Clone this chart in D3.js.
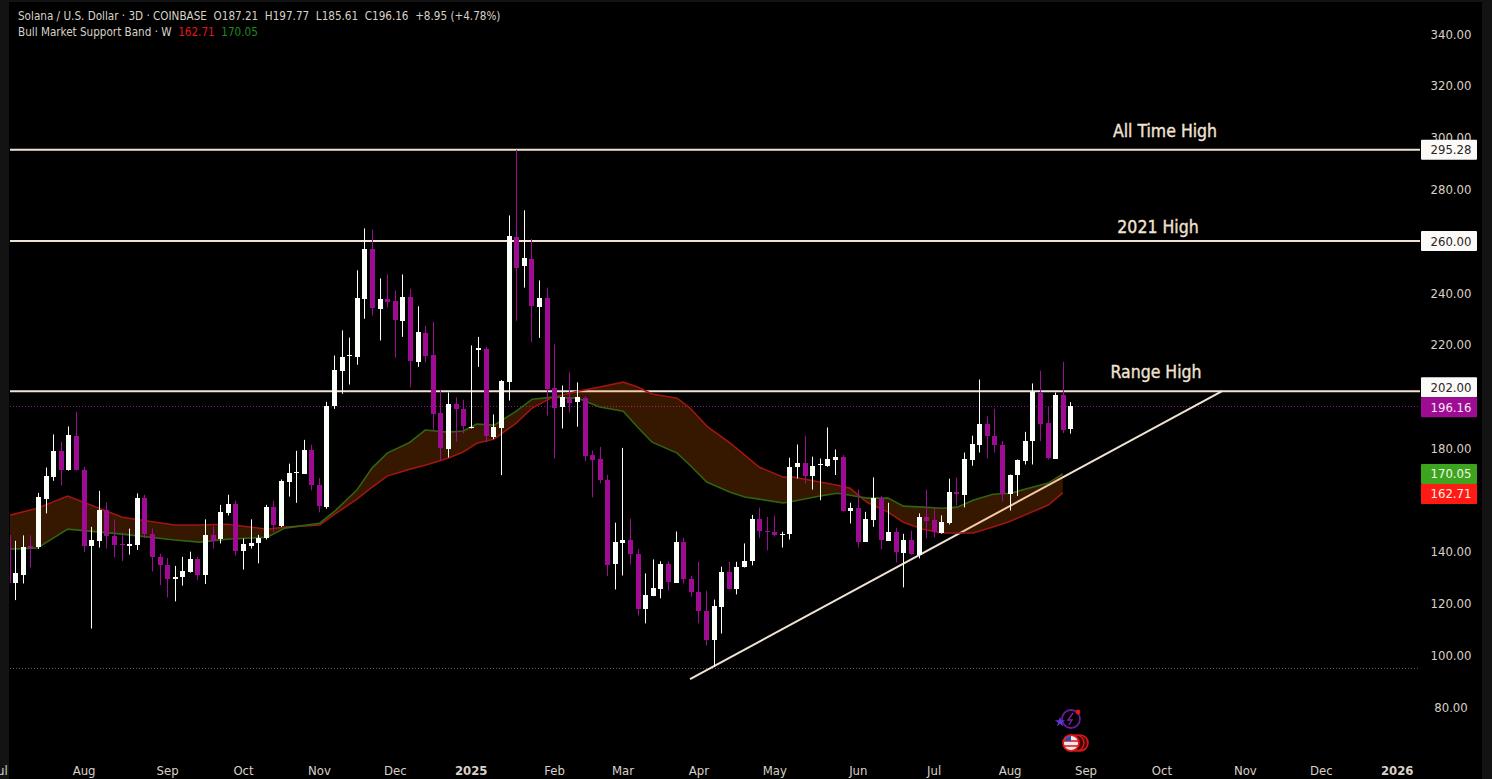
<!DOCTYPE html>
<html>
<head>
<meta charset="utf-8">
<script src="https://cdn.jsdelivr.net/npm/d3@7"></script>
<style>
  html, body { margin: 0; padding: 0; background: #000; overflow: hidden; }
  svg { display: block; }
  text { font-family: "DejaVu Sans Condensed", "DejaVu Sans", sans-serif; font-stretch: condensed; }
</style>
</head>
<body>
<script>
// candles, first one is cut off by the left edge of the pane
var firstBar = -1;
var opens = [146.4,
  127.7,131.2,142.2,141.8,160.6,168.9,179.0,171.4,184.8,171.6,
  142.2,144.3,156.1,146.0,142.9,142.0,142.5,160.8,147.0,138.0,
  134.9,129.4,130.2,132.4,137.3,131.2,146.5,144.9,155.2,158.4,
  140.1,142.4,143.2,145.2,157.2,150.1,167.1,170.1,170.2,179.4,
  165.7,157.5,196.2,210.0,215.3,215.4,237.8,257.0,234.0,237.7,
  236.9,229.4,238.4,213.5,224.6,216.1,193.5,179.9,197.0,195.1,
  188.3,217.6,218.3,184.5,188.0,205.8,261.7,250.1,253.2,234.8,
  238.1,203.3,195.7,199.5,197.7,199.5,177.4,175.9,167.8,135.1,
  143.6,144.6,139.2,118.0,123.0,125.8,135.3,128.1,143.7,129.4,
  124.5,117.1,105.8,118.8,132.2,125.8,134.0,136.3,152.7,148.1,
  147.7,146.7,146.8,172.7,174.3,169.2,173.2,173.3,175.6,176.7,
  155.9,157.0,143.9,152.4,160.7,144.3,147.7,139.7,144.5,138.9,
  153.5,152.2,147.3,151.3,163.1,162.2,175.6,181.4,189.3,184.6,
  181.2,162.4,169.6,175.2,182.7,201.5,189.7,176.0,200.5,187.21];
var closes = [127.7,
  131.6,141.9,141.6,161.0,169.3,179.0,171.5,184.9,171.5,142.2,
  144.6,156.1,146.0,142.5,142.4,142.9,160.8,146.9,138.0,134.8,
  129.4,130.3,132.6,137.3,131.3,146.5,144.3,155.4,158.5,140.2,
  142.8,143.4,145.2,157.3,150.1,167.4,170.5,170.6,179.4,165.7,
  157.5,196.4,210.3,215.3,215.8,238.1,257.0,234.1,237.7,236.7,
  229.5,238.5,213.6,225.0,215.8,193.4,179.9,197.1,194.9,188.4,
  188.3,218.5,184.5,188.3,206.0,262.1,249.8,253.3,234.9,238.1,
  203.1,195.7,199.6,197.7,199.6,177.2,175.6,167.7,134.8,143.6,
  144.7,139.0,118.0,123.3,126.0,135.4,128.2,143.8,129.3,124.4,
  117.0,105.8,119.1,132.2,125.8,134.2,136.5,152.7,148.0,147.6,
  146.5,147.0,172.8,174.3,169.1,173.0,173.7,175.9,176.7,155.9,
  157.0,143.9,152.7,160.8,144.5,147.7,140.1,144.7,139.1,153.5,
  152.1,147.7,151.6,163.1,162.2,176.0,181.7,189.4,184.6,181.0,
  162.4,169.7,175.5,182.8,201.8,189.7,176.0,200.6,186.9,196.16];
var highs = [148.0,
  144.2,146.3,146.3,162.7,172.5,185.3,182.5,188.4,194.0,172.8,
  149.6,163.5,159.0,152.5,147.3,148.9,162.5,162.0,149.0,139.2,
  137.6,134.5,138.0,140.0,138.0,152.5,149.9,158.1,162.0,159.7,
  145.1,152.5,146.5,158.1,159.7,167.9,174.0,179.0,183.2,181.3,
  168.5,197.9,215.8,225.5,222.7,248.7,264.9,264.5,245.6,247.1,
  240.9,247.1,241.6,234.8,227.3,228.8,202.4,201.5,199.6,198.7,
  219.7,223.0,219.2,193.0,206.3,269.9,295.28,271.9,260.8,244.8,
  242.0,220.1,204.2,209.3,205.4,200.1,179.1,180.5,169.7,151.2,
  180.1,152.7,141.1,131.6,137.0,136.3,136.2,147.8,145.4,130.7,
  136.1,124.9,121.5,134.2,136.1,136.1,143.2,154.2,157.0,153.5,
  153.9,147.7,176.3,181.4,184.8,176.7,176.0,188.0,179.5,177.3,
  158.9,164.0,155.4,168.7,161.5,158.9,149.2,146.9,148.1,154.8,
  164.0,156.7,154.0,168.2,168.7,178.3,184.8,206.5,192.3,195.2,
  182.8,169.8,175.6,186.3,205.0,209.9,196.0,201.5,213.4,197.77];
var lows = [126.0,
  121.3,127.7,133.9,141.1,154.8,167.4,165.6,171.3,171.4,139.8,
  110.3,141.6,141.2,137.9,136.4,138.9,140.7,145.2,132.4,127.1,
  122.3,120.8,126.9,131.9,129.0,127.5,141.2,143.2,154.0,138.5,
  133.1,141.2,135.5,144.7,147.7,149.5,161.3,158.9,170.0,163.7,
  155.2,156.6,195.2,201.0,204.6,212.2,230.0,231.2,221.6,234.4,
  215.0,223.0,203.5,211.4,213.1,186.8,175.3,176.4,182.5,185.7,
  187.6,211.4,182.3,183.5,169.6,198.4,229.2,242.0,220.9,222.6,
  192.6,176.0,187.6,193.8,188.3,175.0,161.0,166.4,130.6,125.4,
  130.8,135.1,115.3,112.3,122.8,122.0,125.0,128.0,127.7,122.6,
  112.3,103.8,95.5,108.4,125.4,123.5,133.9,134.7,145.4,140.5,
  145.9,141.6,144.7,168.3,166.4,164.0,159.9,172.8,169.6,155.5,
  150.9,141.6,143.8,149.6,140.9,144.2,135.8,126.2,138.9,137.4,
  145.1,145.5,147.0,150.5,157.9,157.1,173.2,178.3,176.0,178.3,
  159.4,155.9,161.5,173.7,173.7,182.7,175.6,175.9,185.8,185.61];

// bull market support band, vertices sit on fractional bar numbers
var bandBars = [-0.7,2.9,6.9,14.1,21.0,24.3,27.9,33.2,35.5,40.1,42.1,45.0,47.0,49.0,52.0,54.0,57.0,59.0,60.8,63.1,66.0,68.1,70.8,74.1,77.0,80.1,82.0,83.9,87.2,88.9,91.1,94.2,96.1,98.0,101.2,102.5,106.0,108.3,110.0,112.2,115.0,117.0,119.6,122.1,124.1,126.2,128.8,131.1,136.1,138.0];
var bandRed = [154.1,156.8,161.5,153.3,150.3,150.3,150.6,148.7,149.5,150.3,154.5,160.3,164.9,169.2,171.9,173.4,176.1,178.5,181.9,183.5,189.7,195.5,199.7,202.0,203.6,205.5,203.6,200.9,199.3,195.5,188.5,181.9,177.3,172.7,168.8,168.8,166.9,165.7,164.5,159.1,155.3,151.4,148.7,147.2,147.2,147.2,149.5,151.8,158.0,162.71];
var bandGreen = [141.0,141.4,148.7,146.8,144.5,143.7,144.8,145.6,149.1,151.0,155.7,163.8,172.3,178.1,182.3,187.0,186.2,186.6,189.3,188.9,194.3,198.9,199.7,199.3,195.9,194.3,188.1,182.3,178.1,173.4,166.9,163.0,161.1,160.3,158.8,159.5,161.5,162.6,161.8,160.7,160.7,157.6,157.2,156.8,157.2,159.9,162.2,162.6,166.5,170.05];

// axes (260, 200 and 160 sit fully behind price tags in the picture)
var priceTicks = [80,100,120,140,180,220,240,280,300,320,340];
var monthBars = [-2,9,20,30,40,50,60,71,80,90,100,111,121,131,141,151,162,172,182];
var monthLabels = ["Jul","Aug","Sep","Oct","Nov","Dec","2025","Feb","Mar","Apr","May","Jun","Jul","Aug","Sep","Oct","Nov","Dec","2026"];

// drawn levels
var levelValues = [295.28, 260, 202];
var levelTexts = ["All Time High", "2021 High", "Range High"];
var trendBars = [88.9, 159.0];
var trendPrices = [90.8, 202.0];
var lastClose = 196.16;
var rangeLow = 95.0;

var w = 1492, h = 779;
var white = "#fbfffa", purple = "#9e0c94", cream = "#f1e3d4", tickColor = "#d9d0c8";

var x = d3.scaleLinear().domain([0, 139]).range([15.3, 1070.3]);
var y = d3.scaleLinear().domain([80, 340]).range([707, 34]);
var paneRight = 1420;

var svg = d3.select("body").append("svg").attr("width", w).attr("height", h);

svg.append("rect").attr("width", w).attr("height", h).attr("fill", "#000");

// dark strips round the pane
svg.append("rect").attr("x", 0).attr("y", 0).attr("width", 9).attr("height", h).attr("fill", "#131313");
svg.append("rect").attr("x", 1482).attr("y", 0).attr("width", 10).attr("height", h).attr("fill", "#131313");
svg.append("rect").attr("x", 0).attr("y", 0).attr("width", w).attr("height", 2).attr("fill", "#131313");

svg.append("clipPath").attr("id", "pane").append("rect")
  .attr("x", 10).attr("y", 0).attr("width", paneRight - 10).attr("height", h);

var pane = svg.append("g").attr("clip-path", "url(#pane)");

// dotted price lines
[[lastClose, "#8a1488"], [rangeLow, "#5c5c5c"]].forEach(function(d) {
  var py = Math.round(y(d[0])) + 0.5;
  pane.append("line")
    .attr("x1", 10).attr("x2", paneRight)
    .attr("y1", py).attr("y2", py)
    .attr("stroke", d[1]).attr("stroke-width", 1).attr("stroke-dasharray", "1 2");
});

// level lines and trend line sit under the translucent band
pane.selectAll(".level").data(levelValues).enter().append("line")
  .attr("class", "level")
  .attr("x1", 10).attr("x2", paneRight)
  .attr("y1", function(d) { return y(d); })
  .attr("y2", function(d) { return y(d); })
  .attr("stroke", cream).attr("stroke-width", 2);

pane.append("line")
  .attr("x1", x(trendBars[0])).attr("y1", y(trendPrices[0]))
  .attr("x2", x(trendBars[1])).attr("y2", y(trendPrices[1]))
  .attr("stroke", cream).attr("stroke-width", 2);

// band
var idx = d3.range(bandBars.length);
var bandArea = d3.area()
  .x(function(i) { return x(bandBars[i]); })
  .y0(function(i) { return y(bandRed[i]); })
  .y1(function(i) { return y(bandGreen[i]); });
pane.append("path").datum(idx)
  .attr("d", bandArea)
  .attr("fill", "rgb(255,110,0)").attr("fill-opacity", 0.21);

function bandLine(vals) {
  return d3.line()
    .x(function(i) { return x(bandBars[i]); })
    .y(function(i) { return y(vals[i]); })(idx);
}
pane.append("path").attr("d", bandLine(bandRed))
  .attr("fill", "none").attr("stroke", "#a01512").attr("stroke-width", 1.6);
pane.append("path").attr("d", bandLine(bandGreen))
  .attr("fill", "none").attr("stroke", "#2f6410").attr("stroke-width", 1.6);

// candles, snapped to whole pixels so the wicks stay crisp
var bars = d3.range(opens.length);
function barColor(i) { return closes[i] >= opens[i] ? white : purple; }
function barX(i) { return Math.round(x(i + firstBar)); }

pane.selectAll(".wick").data(bars).enter().append("line")
  .attr("class", "wick")
  .attr("x1", function(i) { return barX(i) + 0.5; })
  .attr("x2", function(i) { return barX(i) + 0.5; })
  .attr("y1", function(i) { return y(highs[i]); })
  .attr("y2", function(i) { return y(lows[i]); })
  .attr("stroke", barColor).attr("stroke-width", 1);

pane.selectAll(".body").data(bars).enter().append("rect")
  .attr("class", "body")
  .attr("x", function(i) { return barX(i) - 2; })
  .attr("width", 5)
  .attr("y", function(i) { return Math.round(y(Math.max(opens[i], closes[i]))); })
  .attr("height", function(i) { return Math.max(1, Math.round(Math.abs(y(opens[i]) - y(closes[i])))); })
  .attr("fill", barColor);

// level captions
var captionX = [1165, 1158, 1156];
var captionGap = [13, 8, 13];
pane.selectAll(".caption").data(levelTexts).enter().append("text")
  .attr("class", "caption")
  .attr("x", function(d, i) { return captionX[i]; })
  .attr("y", function(d, i) { return y(levelValues[i]) - captionGap[i]; })
  .attr("text-anchor", "middle")
  .attr("fill", cream).attr("stroke", cream).attr("stroke-width", 0.35).attr("font-size", 17.5)
  .text(function(d) { return d; });

// price axis
var priceAxis = d3.axisRight(y).tickValues(priceTicks)
  .tickFormat(function(d) { return d.toFixed(2); }).tickSize(0).tickPadding(0);
var yg = svg.append("g").attr("transform", "translate(1451,0)").call(priceAxis);
yg.select(".domain").remove();
yg.selectAll("text").attr("text-anchor", "middle").attr("x", 0)
  .attr("fill", tickColor).attr("font-size", 13);

// time axis
var timeAxis = d3.axisBottom(x).tickValues(monthBars)
  .tickFormat(function(d, i) { return monthLabels[i]; }).tickSize(0).tickPadding(0);
var xg = svg.append("g").attr("transform", "translate(0,766)").call(timeAxis);
xg.select(".domain").remove();
xg.selectAll("text")
  .attr("fill", tickColor).attr("font-size", 13)
  .attr("font-weight", function(d, i) { return monthLabels[i].length == 4 ? 700 : 400; });
xg.attr("font-family", null);
yg.attr("font-family", null);

// price tags on the axis
var tagValues = [295.28, 260, 202, 196.16, 170.05, 162.71];
var tagFill = ["#fbfaf8", "#fbfaf8", "#fbfaf8", "#9e0c94", "#3da41e", "#ff1a14"];
var tagText = ["#2a2320", "#2a2320", "#2a2320", "#f5e6f2", "#f2f7ee", "#fbeee8"];
var tagShift = [0, 0, -4, 1, 0, 1];
var tags = svg.selectAll(".tag").data(tagValues).enter().append("g").attr("class", "tag")
  .attr("transform", function(d, i) { return "translate(1421," + (y(d) + tagShift[i]) + ")"; });
tags.append("rect").attr("x", 0).attr("y", -10).attr("width", 56).attr("height", 20).attr("rx", 1)
  .attr("fill", function(d, i) { return tagFill[i]; });
tags.append("text").attr("x", 30).attr("y", 4.5).attr("text-anchor", "middle").attr("font-size", 13)
  .attr("fill", function(d, i) { return tagText[i]; })
  .text(function(d) { return d.toFixed(2); });

// legend
var legend = svg.append("g");
legend.append("text").attr("x", 18).attr("y", 20).attr("font-size", 11.6).attr("fill", tickColor)
  .style("white-space", "pre")
  .text("Solana / U.S. Dollar · 3D · COINBASE  O187.21  H197.77  L185.61  C196.16  +8.95 (+4.78%)");
var second = legend.append("text").attr("x", 18).attr("y", 36).attr("font-size", 11.6).attr("fill", tickColor)
  .style("white-space", "pre");
second.append("tspan").text("Bull Market Support Band · W  ");
second.append("tspan").attr("fill", "#e01818").text("162.71  ");
second.append("tspan").attr("fill", "#1f8a1f").text("170.05");

// event icons at the bottom
var icons = svg.append("g");
icons.append("circle").attr("cx", 1071).attr("cy", 719).attr("r", 9)
  .attr("fill", "none").attr("stroke", "#6a1b9a").attr("stroke-width", 1.8);
icons.append("path").attr("d", "M1073,713 L1068,720 L1072,720 L1069,725").attr("fill", "none").attr("stroke", "#7b1fa2").attr("stroke-width", 1.4);
icons.append("path").attr("d", d3.symbol().type(d3.symbolStar).size(32)).attr("transform", "translate(1060,722)").attr("fill", "#5e35d0");
icons.append("circle").attr("cx", 1078).attr("cy", 712).attr("r", 2.4).attr("fill", "#e01818");
icons.append("circle").attr("cx", 1080).attr("cy", 743).attr("r", 8).attr("fill", "#400808").attr("stroke", "#e01818").attr("stroke-width", 1.6);
icons.append("circle").attr("cx", 1076).attr("cy", 743).attr("r", 8).attr("fill", "#400808").attr("stroke", "#e01818").attr("stroke-width", 1.4);
icons.append("circle").attr("cx", 1071).attr("cy", 743).attr("r", 8).attr("fill", "#f2e6e6").attr("stroke", "#e01818").attr("stroke-width", 1.8);
icons.append("path").attr("d", "M1064,741 h14 M1064,746 h14").attr("stroke", "#d81818").attr("stroke-width", 1.6);
icons.append("path").attr("d", "M1071,736 a7,7 0 0 0 -6.6,5 h6.6 z").attr("fill", "#2a4fb0");
</script>
</body>
</html>
